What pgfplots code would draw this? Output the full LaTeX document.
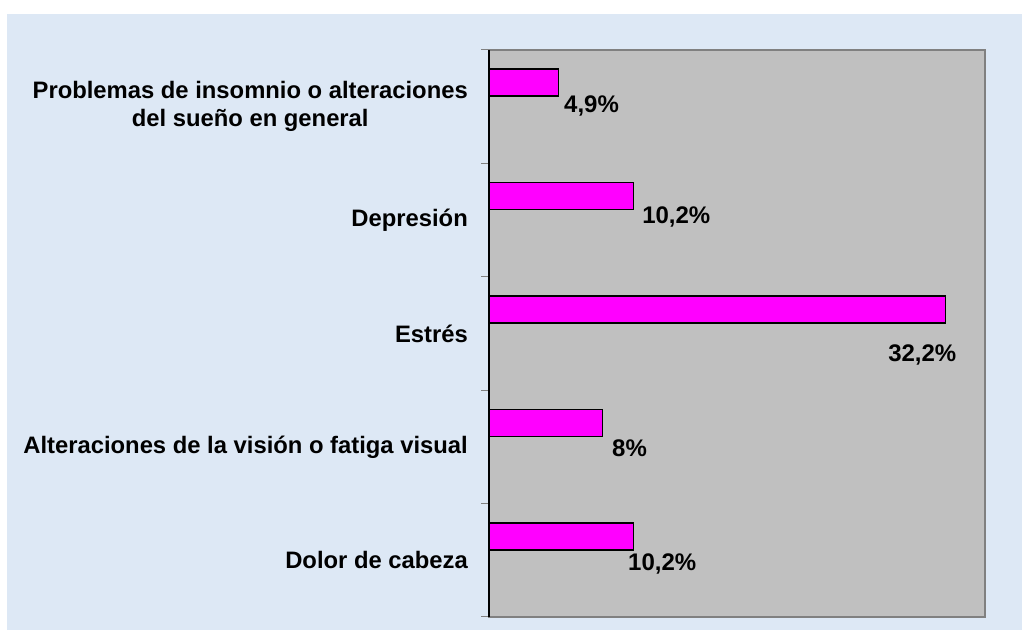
\documentclass[border=0pt]{standalone}
\usepackage{pgfplots}
\pgfplotsset{compat=1.18}
\usepackage{fontspec}
\setmainfont{Liberation Sans}
\definecolor{BgBlue}{RGB}{221,232,245}
\definecolor{PlotGray}{HTML}{C0C0C0}
\definecolor{FrameGray}{HTML}{808080}
\definecolor{BarMagenta}{HTML}{FF00FF}

\begin{document}
\begin{tikzpicture}[x=1bp,y=1bp]
  % page and backdrop
  \fill[white] (0,0) rectangle (1022,630);
  \fill[BgBlue] (7,0) rectangle (1022,616);
  \begin{axis}[
    at={(489bp,13bp)},anchor=south west,
    width=496bp,height=567bp,scale only axis,
    xmin=0,xmax=35,ymin=-0.5,ymax=4.5,
    axis background/.style={fill=PlotGray},
    axis line style={draw=FrameGray,line width=1.2bp},
    xtick=\empty,
    ytick={0,1,2,3,4},
    yticklabels={Dolor de cabeza,Alteraciones de la visión o fatiga visual,Estrés,Depresión,{Problemas de insomnio o alteraciones\\del sueño en general}},
    minor ytick={-0.5,0.5,1.5,2.5,3.5,4.5},
    major tick length=0pt,minor tick length=8bp,
    tick align=outside,ytick pos=left,
    minor tick style={draw=FrameGray,line width=1bp},
    yticklabel style={font=\fontsize{23.8bp}{28bp}\selectfont\bfseries,align=center,anchor=east,inner sep=0pt,xshift=-21bp},
    clip=false,
  ]
    \addplot[xbar,bar width=27bp,bar shift=24bp,fill=BarMagenta,draw=black,line width=1.5bp]
      coordinates {(10.2,0) (8,1) (32.2,2) (10.2,3) (4.9,4)};
    \draw[black,line width=1.3bp] (rel axis cs:0,0) -- (rel axis cs:0,1);
    \begin{scope}[every node/.style={font=\fontsize{24bp}{28bp}\selectfont\bfseries,anchor=base west,inner sep=0pt}]
      \node at (axis cs:5.29,3.953) {4,9\%};
      \node at (axis cs:10.8,2.966) {10,2\%};
      \node at (axis cs:28.16,1.749) {32,2\%};
      \node at (axis cs:8.68,0.911) {8\%};
      \node at (axis cs:9.81,-0.094) {10,2\%};
    \end{scope}
  \end{axis}
  \pgfresetboundingbox
  \path (0,0) rectangle (1022,630);
\end{tikzpicture}
\end{document}
